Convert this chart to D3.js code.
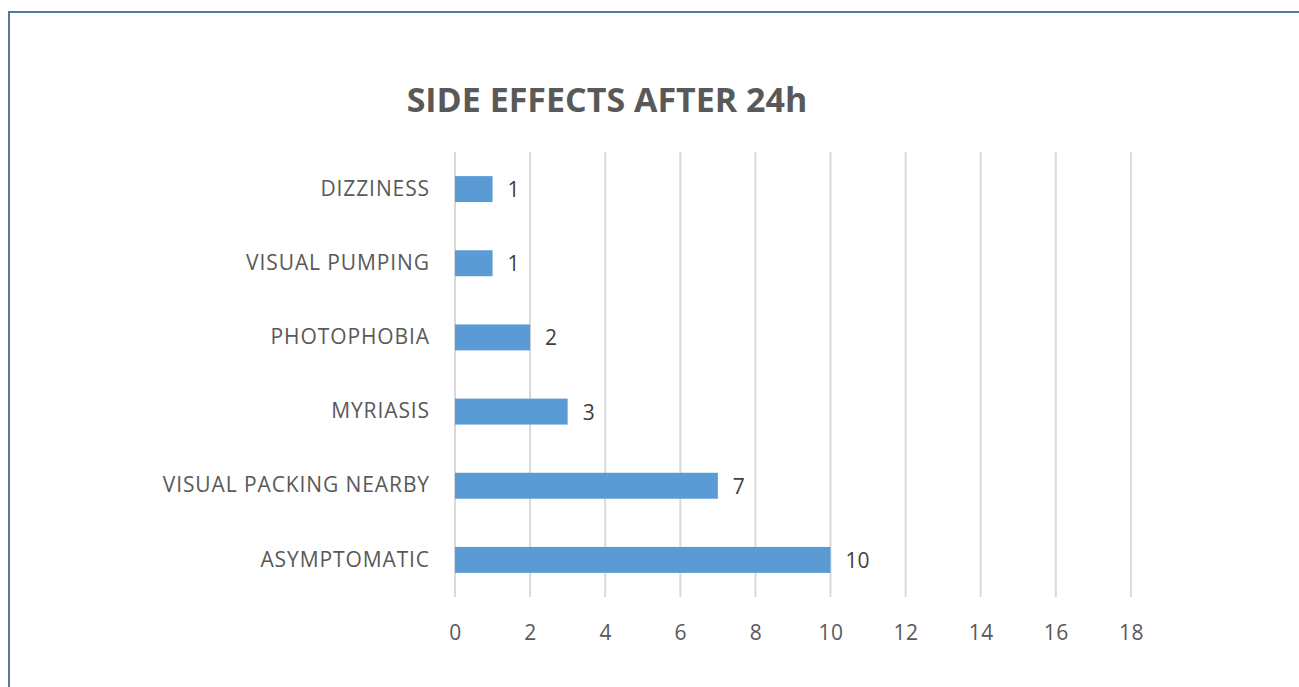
<!DOCTYPE html>
<html>
<head>
<meta charset="utf-8">
<script src="https://cdn.jsdelivr.net/npm/d3@7"></script>
<style>
  body { margin: 0; background: #fff; }
  svg { display: block; }
</style>
</head>
<body>
<svg id="chart" width="1299" height="687"></svg>
<script>
// categories, top to bottom
const categories = ['DIZZINESS', 'VISUAL PUMPING', 'PHOTOPHOBIA', 'MYRIASIS', 'VISUAL PACKING NEARBY', 'ASYMPTOMATIC'];
const values = [1, 1, 2, 3, 7, 10];
const xTicks = [0, 2, 4, 6, 8, 10, 12, 14, 16, 18];
const title = 'SIDE EFFECTS AFTER 24h';

const svg = d3.select('#chart');
const font = "'Open Sans', 'Liberation Sans', sans-serif";
const textColor = '#595959';

// outer frame (right and bottom run off the page)
svg.append('rect')
  .attr('x', 9).attr('y', 12)
  .attr('width', 1400).attr('height', 800)
  .attr('fill', 'none')
  .attr('stroke', '#52799f')
  .attr('stroke-width', 2);

const plotLeft = 455, plotRight = 455 + 18 * 37.55;
const plotTop = 152, plotBottom = 597;

const x = d3.scaleLinear().domain([0, 18]).range([plotLeft, plotRight]);
const y = d3.scaleBand().domain(categories).range([plotTop, plotBottom]).paddingInner(0.65).paddingOuter(0.325);

// title
svg.append('text')
  .attr('x', 607).attr('y', 112)
  .attr('text-anchor', 'middle')
  .attr('font-family', font)
  .attr('font-weight', 'bold')
  .attr('font-size', 34)
  .attr('fill', textColor)
  .text(title);

// gridlines
svg.append('g').selectAll('line')
  .data(xTicks)
  .join('line')
  .attr('x1', d => x(d)).attr('x2', d => x(d))
  .attr('y1', plotTop).attr('y2', plotBottom)
  .attr('stroke', '#d9d9d9')
  .attr('stroke-width', 2);

// x axis labels
const xAxis = svg.append('g')
  .attr('transform', `translate(0,${plotBottom})`)
  .call(d3.axisBottom(x).tickValues(xTicks).tickSize(0).tickPadding(28));
xAxis.select('.domain').remove();
xAxis.selectAll('text')
  .attr('font-family', font)
  .attr('font-size', 21)
  .attr('letter-spacing', '0.5px')
  .attr('fill', textColor);

// y axis labels
const yAxis = svg.append('g')
  .attr('transform', `translate(${plotLeft},0)`)
  .call(d3.axisLeft(y).tickSize(0).tickPadding(25));
yAxis.select('.domain').remove();
yAxis.selectAll('text')
  .attr('font-family', font)
  .attr('font-size', 21)
  .attr('letter-spacing', '0.9px')
  .attr('fill', textColor);

// bars
svg.append('g').selectAll('rect')
  .data(values)
  .join('rect')
  .attr('x', x(0))
  .attr('y', (d, i) => y(categories[i]))
  .attr('width', d => x(d) - x(0))
  .attr('height', y.bandwidth())
  .attr('fill', '#5b9bd5');

// value labels
svg.append('g').selectAll('text')
  .data(values)
  .join('text')
  .attr('x', d => x(d) + 15)
  .attr('y', (d, i) => y(categories[i]) + y.bandwidth() / 2)
  .attr('dy', '0.38em')
  .attr('font-family', font)
  .attr('font-size', 21)
  .attr('fill', '#404040')
  .text(d => d);
</script>
</body>
</html>
